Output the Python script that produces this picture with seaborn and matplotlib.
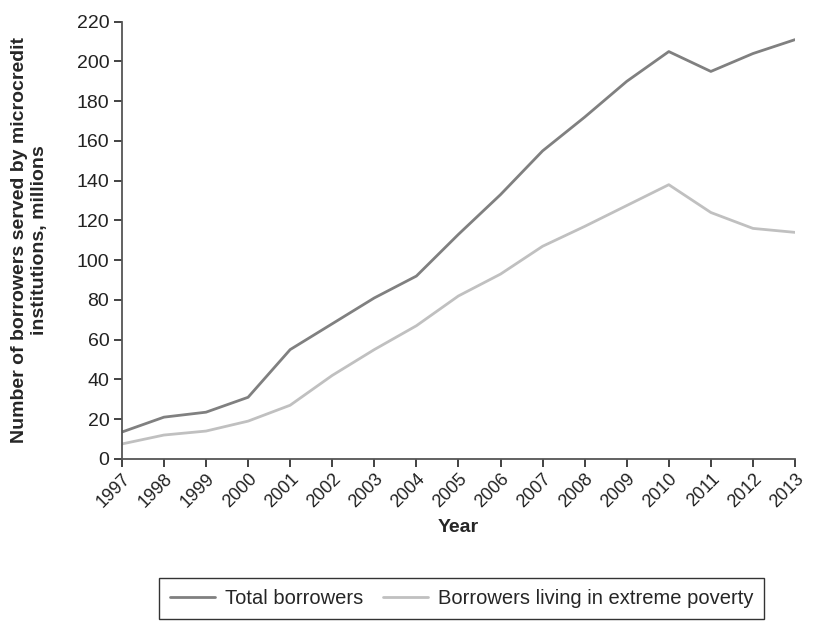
import pandas as pd
import numpy as np
import matplotlib
matplotlib.use("Agg")
import matplotlib.pyplot as plt
import seaborn as sns

# %% Dados
years = list(range(1997, 2014))
total_borrowers = [13.5, 21, 23.5, 31, 55, 68, 81, 92, 113, 133, 155, 172, 190, 205, 195, 204, 211]
poverty_borrowers = [7.5, 12, 14, 19, 27, 42, 55, 67, 82, 93, 107, 117, 127.5, 138, 124, 116, 114]
series_names = ["Total borrowers", "Borrowers living in extreme poverty"]
colors = ["#808080", "#c0c0c0"]

df = pd.DataFrame({
    "Year": years * 2,
    "value": total_borrowers + poverty_borrowers,
    "serie": [series_names[0]] * len(years) + [series_names[1]] * len(years),
})

# %% Estilo
sns.set_theme(style="ticks")
plt.rcParams["font.family"] = ["Liberation Sans", "DejaVu Sans"]

fig, ax = plt.subplots(figsize=(8.29, 6.4), dpi=100)
fig.subplots_adjust(left=0.147, right=0.959, top=0.966, bottom=0.283)

sns.lineplot(data=df, x="Year", y="value", hue="serie", palette=colors,
             linewidth=2, ax=ax, legend=False)

ax.set_xlim(1997, 2013)
ax.set_ylim(0, 220)
ax.set_xticks(years)
ax.set_xticklabels([str(y) for y in years], rotation=45, fontsize=13,
                   ha="right", rotation_mode="anchor")
ax.set_yticks(range(0, 221, 20))
ax.tick_params(axis="y", labelsize=14, pad=3)
ax.tick_params(axis="x", pad=2)
ax.tick_params(colors="#222222", width=1.2, length=6)
for s in ["left", "bottom"]:
    ax.spines[s].set_color("#555555")
    ax.spines[s].set_linewidth(1.3)
sns.despine(ax=ax)

ax.set_xlabel("Year", fontsize=14, fontweight="bold", va="center")
ax.xaxis.set_label_coords(0.5, -0.158)
ax.set_ylabel("Number of borrowers served by microcredit\ninstitutions, millions",
              fontsize=14, fontweight="bold", linespacing=1.25, va="center")
ax.yaxis.set_label_coords(-0.137, 0.5)

handles = [plt.Line2D([], [], color=c, linewidth=2) for c in colors]
leg = fig.legend(handles, series_names, loc="center", bbox_to_anchor=(0.557, 0.065),
                 ncol=2, frameon=True, fancybox=False, fontsize=14.5,
                 handlelength=2.2, handletextpad=0.5, columnspacing=1.0, borderpad=0.55)
leg.get_frame().set_edgecolor("black")
leg.get_frame().set_linewidth(1)

fig.savefig("out.png", dpi=100)
